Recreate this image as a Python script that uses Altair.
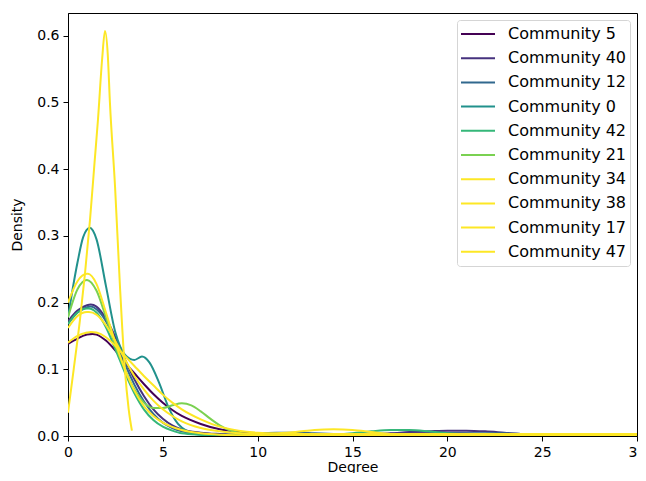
import altair as alt
import pandas as pd

communities = ["Community 5", "Community 40", "Community 12", "Community 0", "Community 42",
               "Community 21", "Community 34", "Community 38", "Community 17", "Community 47"]
colors = ["#440154", "#46327e", "#31688e", "#21918c", "#35b779",
          "#7ad151", "#fde725", "#fde725", "#fde725", "#fde725"]

deg_5 = [0, 0.5, 1, 1.3, 1.5, 2, 2.5, 3, 3.5, 4, 4.5, 5, 5.5, 6, 7, 8, 9, 10, 12, 14, 16, 18, 20, 22, 24, 26, 28, 30]
dens_5 = [0.138, 0.146, 0.152, 0.153, 0.152, 0.143, 0.128, 0.11, 0.094, 0.078, 0.063, 0.05, 0.039, 0.03, 0.018,
          0.01, 0.006, 0.004, 0.003, 0.003, 0.003, 0.004, 0.004, 0.003, 0.002, 0.001, 0.0005, 0.0002]

deg_40 = [0, 0.5, 1, 1.2, 1.5, 2, 2.5, 3, 3.5, 4, 4.5, 5, 5.5, 6, 7, 8, 9, 10, 12, 14, 16, 17, 18, 19, 20, 21,
          22, 23, 24, 25, 26, 28, 30]
dens_40 = [0.172, 0.188, 0.196, 0.197, 0.194, 0.176, 0.148, 0.115, 0.085, 0.06, 0.04, 0.026, 0.016, 0.01, 0.005,
           0.003, 0.002, 0.002, 0.002, 0.002, 0.003, 0.004, 0.006, 0.007, 0.008, 0.008, 0.007, 0.005, 0.003,
           0.002, 0.001, 0.0003, 0.0001]

deg_12 = [0, 0.5, 1, 1.2, 1.5, 2, 2.5, 3, 3.5, 4, 4.5, 5, 5.5, 6, 7, 8, 9, 10, 11, 12, 13, 14, 16, 18, 20, 22,
          23, 24, 25, 26, 28, 30]
dens_12 = [0.168, 0.185, 0.193, 0.194, 0.19, 0.172, 0.142, 0.108, 0.077, 0.052, 0.033, 0.02, 0.012, 0.007, 0.003,
           0.002, 0.003, 0.004, 0.005, 0.005, 0.004, 0.003, 0.002, 0.003, 0.004, 0.004, 0.004, 0.003, 0.002,
           0.001, 0.0003, 0.0001]

deg_0 = [0, 0.5, 0.8, 1.15, 1.5, 2, 2.5, 3, 3.5, 3.9, 4.3, 4.8, 5.3, 5.8, 6.3, 7, 8, 10, 15, 20, 25, 30]
dens_0 = [0.178, 0.26, 0.298, 0.312, 0.295, 0.225, 0.155, 0.122, 0.114, 0.119, 0.11, 0.08, 0.043, 0.018, 0.007,
          0.002, 0.001, 0.0005, 0.0002, 0.0001, 0.0, 0.0]

deg_42 = [0, 0.5, 1, 1.1, 1.5, 2, 2.5, 3, 3.5, 4, 4.5, 5, 5.5, 6, 7, 8, 10, 12, 14, 15, 16, 17, 18, 19, 20, 22,
          25, 30]
dens_42 = [0.168, 0.185, 0.191, 0.191, 0.185, 0.163, 0.13, 0.095, 0.064, 0.04, 0.024, 0.014, 0.008, 0.004, 0.002,
           0.001, 0.001, 0.001, 0.002, 0.004, 0.007, 0.009, 0.009, 0.007, 0.004, 0.001, 0.0003, 0.0]

deg_21 = [0, 0.5, 1, 1.5, 2, 2.5, 3, 3.5, 4, 4.5, 5, 5.5, 6, 6.5, 7, 7.5, 8, 8.5, 9, 10, 12, 15, 20, 25, 30]
dens_21 = [0.178, 0.22, 0.234, 0.218, 0.178, 0.135, 0.1, 0.07, 0.05, 0.042, 0.042, 0.046, 0.049, 0.046, 0.037,
           0.026, 0.016, 0.009, 0.005, 0.002, 0.001, 0.0005, 0.0002, 0.0, 0.0]

deg_34 = [0, 0.5, 1, 1.05, 1.5, 2, 2.5, 3, 3.5, 4, 4.5, 5, 6, 7, 8, 10, 15, 20, 25, 30]
dens_34 = [0.2, 0.232, 0.243, 0.243, 0.228, 0.185, 0.14, 0.1, 0.068, 0.045, 0.03, 0.02, 0.009, 0.004, 0.002,
           0.001, 0.0005, 0.0003, 0.0002, 0.0001]

deg_38 = [0, 0.5, 1, 1.1, 1.5, 2, 2.5, 3, 3.5, 4, 4.5, 5, 5.5, 6, 7, 8, 9, 10, 11, 12, 13, 14, 15, 16, 17, 18,
          20, 22, 25, 28, 30]
dens_38 = [0.162, 0.18, 0.186, 0.186, 0.182, 0.166, 0.142, 0.115, 0.09, 0.07, 0.053, 0.04, 0.03, 0.022, 0.012,
           0.007, 0.004, 0.003, 0.004, 0.006, 0.009, 0.01, 0.009, 0.006, 0.003, 0.002, 0.002, 0.002, 0.002,
           0.002, 0.002]

deg_17 = [0, 0.5, 1, 1.2, 1.5, 2, 2.5, 3, 3.5, 4, 4.5, 5, 5.5, 6, 7, 8, 9, 10, 12, 15, 20, 25, 30]
dens_17 = [0.14, 0.15, 0.155, 0.156, 0.155, 0.148, 0.135, 0.12, 0.105, 0.09, 0.076, 0.062, 0.05, 0.04, 0.025,
           0.014, 0.008, 0.005, 0.003, 0.003, 0.003, 0.003, 0.003]

deg_47 = [0, 0.3, 0.63, 0.9, 1.16, 1.4, 1.58, 1.8, 1.95, 2.1, 2.21, 2.48, 2.74, 3.0, 3.2, 3.37]
dens_47 = [0.035, 0.1, 0.174, 0.245, 0.324, 0.41, 0.474, 0.565, 0.607, 0.57, 0.5, 0.374, 0.224, 0.099, 0.04,
           0.008]

series = [
    ("Community 5", deg_5, dens_5),
    ("Community 40", deg_40, dens_40),
    ("Community 12", deg_12, dens_12),
    ("Community 0", deg_0, dens_0),
    ("Community 42", deg_42, dens_42),
    ("Community 21", deg_21, dens_21),
    ("Community 34", deg_34, dens_34),
    ("Community 38", deg_38, dens_38),
    ("Community 17", deg_17, dens_17),
    ("Community 47", deg_47, dens_47),
]

rows = []
for name, xs, ys in series:
    for x, y in zip(xs, ys):
        rows.append({"community": name, "degree": x, "density": y})
df = pd.DataFrame(rows)

FONT = "DejaVu Sans"

chart = alt.Chart(df).mark_line(strokeWidth=2, interpolate="monotone", clip=True).encode(
    x=alt.X("degree:Q", title="Degree",
            scale=alt.Scale(domain=[0, 30], nice=False, zero=False),
            axis=alt.Axis(values=[0, 5, 10, 15, 20, 25, 30], format="d", grid=False,
                          labelFlush=False, labelOverlap=False,
                          tickSize=5, labelPadding=4, titlePadding=1)),
    y=alt.Y("density:Q", title="Density",
            scale=alt.Scale(domain=[0, 0.634], nice=False, zero=False),
            axis=alt.Axis(values=[0, 0.1, 0.2, 0.3, 0.4, 0.5, 0.6], format=".1f", grid=False,
                          labelFlush=False, labelOverlap=False,
                          tickSize=5, labelPadding=4, titlePadding=12)),
    color=alt.Color("community:N", title=None,
                    scale=alt.Scale(domain=communities, range=colors),
                    sort=communities,
                    legend=alt.Legend(orient="top-right", offset=7, symbolType="stroke",
                                      symbolSize=1156, symbolStrokeWidth=2, rowPadding=2.2,
                                      clipHeight=22,
                                      labelFontSize=16, labelFont=FONT, labelColor="#000000",
                                      labelOffset=12, padding=3, fillColor="white",
                                      strokeColor="#d5d5d5", cornerRadius=3, labelLimit=250)),
    detail="community:N",
).properties(
    width=569, height=423,
    autosize=alt.AutoSizeParams(type="none"),
    padding={"left": 60, "top": 5, "right": 1, "bottom": 37},
).configure_axis(
    labelFont=FONT, titleFont=FONT, labelFontSize=14, titleFontSize=14,
    labelColor="#000000", titleColor="#000000", titleFontWeight="normal",
    domainColor="#000000", tickColor="#000000", domainWidth=1, tickWidth=1,
).configure_view(
    stroke="#000000", strokeWidth=1,
)

chart.save("out.html", embed_options={"renderer": "svg", "actions": False})
